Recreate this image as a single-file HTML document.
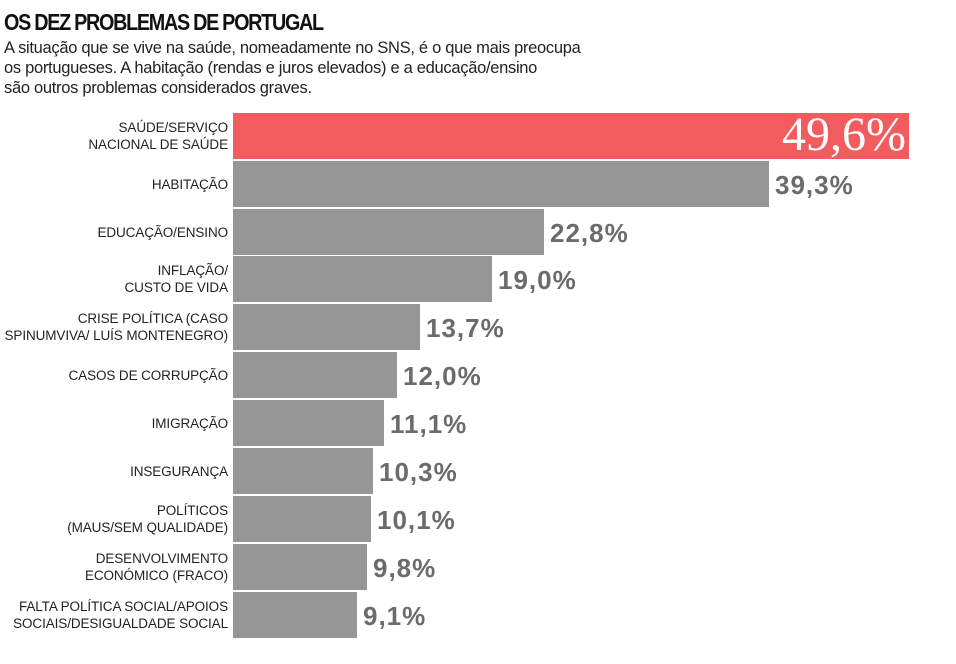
<!DOCTYPE html><html><head><meta charset="utf-8"><style>
body{margin:0;width:956px;height:664px;background:#fff;position:relative;overflow:hidden;font-family:"Liberation Sans",sans-serif}
.t{position:absolute;left:4px;top:9px;font-size:23px;font-weight:bold;letter-spacing:-1.5px;transform:scaleX(0.86);transform-origin:left;color:#111}
.s{position:absolute;left:4px;top:38px;font-size:16.5px;line-height:20px;color:#222;letter-spacing:-0.3px}
.l{position:absolute;right:728px;text-align:right;font-size:13.5px;line-height:17px;color:#222;display:flex;align-items:center;justify-content:flex-end;height:46px;white-space:nowrap;letter-spacing:-0.1px}
.b{position:absolute;left:233px;height:46px;background:#979697}
.v{position:absolute;font-size:26px;font-weight:bold;color:#6b6b6b;height:46px;line-height:48px;letter-spacing:1px}
</style></head><body>
<div class="t">OS DEZ PROBLEMAS DE PORTUGAL</div>
<div class="s">A situação que se vive na saúde, nomeadamente no SNS, é o que mais preocupa<br>os portugueses. A habitação (rendas e juros elevados) e a educação/ensino<br>são outros problemas considerados graves.</div>
<div class="b" style="top:113px;width:676px;background:#f25c5e"></div>
<div style="position:absolute;top:107px;right:50px;font-family:'Liberation Serif',serif;font-size:48px;color:#fff;line-height:56px">49,6%</div>
<div class="l" style="top:113px">SAÚDE/SERVIÇO<br>NACIONAL DE SAÚDE</div>
<div class="l" style="top:161px">HABITAÇÃO</div>
<div class="l" style="top:209px">EDUCAÇÃO/ENSINO</div>
<div class="l" style="top:256px">INFLAÇÃO/<br>CUSTO DE VIDA</div>
<div class="l" style="top:304px">CRISE POLÍTICA (CASO<br>SPINUMVIVA/ LUÍS MONTENEGRO)</div>
<div class="l" style="top:352px">CASOS DE CORRUPÇÃO</div>
<div class="l" style="top:400px">IMIGRAÇÃO</div>
<div class="l" style="top:448px">INSEGURANÇA</div>
<div class="l" style="top:496px">POLÍTICOS<br>(MAUS/SEM QUALIDADE)</div>
<div class="l" style="top:544px">DESENVOLVIMENTO<br>ECONÓMICO (FRACO)</div>
<div class="l" style="top:592px">FALTA POLÍTICA SOCIAL/APOIOS<br>SOCIAIS/DESIGUALDADE SOCIAL</div>
<div class="b" style="top:161px;width:536px"></div><div class="v" style="top:161px;left:775px">39,3%</div>
<div class="b" style="top:209px;width:311px"></div><div class="v" style="top:209px;left:550px">22,8%</div>
<div class="b" style="top:256px;width:259px"></div><div class="v" style="top:256px;left:498px">19,0%</div>
<div class="b" style="top:304px;width:187px"></div><div class="v" style="top:304px;left:426px">13,7%</div>
<div class="b" style="top:352px;width:164px"></div><div class="v" style="top:352px;left:403px">12,0%</div>
<div class="b" style="top:400px;width:151px"></div><div class="v" style="top:400px;left:390px">11,1%</div>
<div class="b" style="top:448px;width:140px"></div><div class="v" style="top:448px;left:379px">10,3%</div>
<div class="b" style="top:496px;width:138px"></div><div class="v" style="top:496px;left:377px">10,1%</div>
<div class="b" style="top:544px;width:134px"></div><div class="v" style="top:544px;left:373px">9,8%</div>
<div class="b" style="top:592px;width:124px"></div><div class="v" style="top:592px;left:363px">9,1%</div>
</body></html>
